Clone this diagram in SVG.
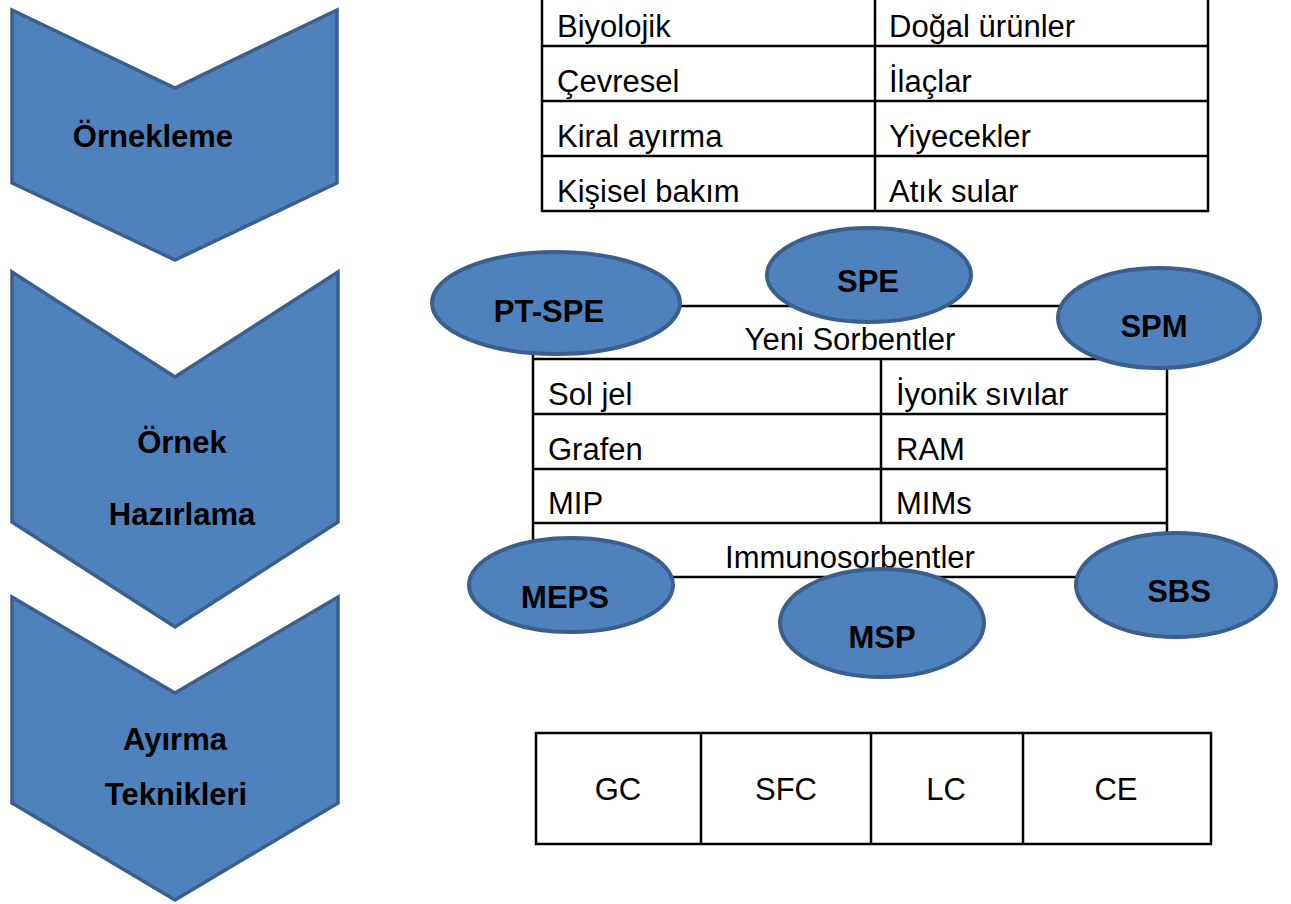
<svg xmlns="http://www.w3.org/2000/svg" width="1291" height="904" viewBox="0 0 1291 904">
<style>
.chev{fill:#4F81BD;stroke:#3A5F8D;stroke-width:3.5;stroke-linejoin:miter}
.ell{fill:#4F81BD;stroke:#3A5F8D;stroke-width:4}
.ln{fill:none;stroke:#000;stroke-width:2.5}
.bt{font-family:"Liberation Sans",Arial,sans-serif;font-weight:bold;font-size:31px;fill:#000;text-anchor:middle}
.t{font-family:"Liberation Sans",Arial,sans-serif;font-size:31px;fill:#000}
.tc{font-family:"Liberation Sans",Arial,sans-serif;font-size:31px;fill:#000;text-anchor:middle}
</style>
<rect width="1291" height="904" fill="#fff"/>

<g id="chevron-ornekleme">
<polygon class="chev" points="12,10 175,88 337,10 337,183 175,260 12,183"/>
<text class="bt" x="153" y="147">Örnekleme</text>
</g>
<g id="chevron-ornek-hazirlama">
<polygon class="chev" points="12,272 175,377 338,272 338,522 175,627 12,522"/>
<text class="bt" x="182" y="453">Örnek</text>
<text class="bt" x="182" y="525">Hazırlama</text>
</g>
<g id="chevron-ayirma">
<polygon class="chev" points="12,597 175,693 338,597 338,803 175,900 12,803"/>
<text class="bt" x="175" y="750">Ayırma</text>
<text class="bt" x="176" y="805">Teknikleri</text>
</g>

<g id="table-applications">
<rect class="ln" x="542" y="-10" width="666" height="221"/>
<line class="ln" x1="875" y1="-10" x2="875" y2="211"/>
<line class="ln" x1="542" y1="46" x2="1208" y2="46"/>
<line class="ln" x1="542" y1="101" x2="1208" y2="101"/>
<line class="ln" x1="542" y1="156" x2="1208" y2="156"/>
<text class="t" x="557" y="37">Biyolojik</text>
<text class="t" x="557" y="92">Çevresel</text>
<text class="t" x="557" y="147">Kiral ayırma</text>
<text class="t" x="557" y="202">Kişisel bakım</text>
<text class="t" x="889" y="37">Doğal ürünler</text>
<text class="t" x="889" y="92">İlaçlar</text>
<text class="t" x="889" y="147">Yiyecekler</text>
<text class="t" x="889" y="202">Atık sular</text>
</g>

<g id="table-sorbents">
<rect class="ln" x="533" y="306" width="634" height="271"/>
<line class="ln" x1="533" y1="359" x2="1167" y2="359"/>
<line class="ln" x1="533" y1="414" x2="1167" y2="414"/>
<line class="ln" x1="533" y1="469" x2="1167" y2="469"/>
<line class="ln" x1="533" y1="523" x2="1167" y2="523"/>
<line class="ln" x1="881" y1="359" x2="881" y2="523"/>
<text class="tc" x="850" y="350">Yeni Sorbentler</text>
<text class="t" x="548" y="405">Sol jel</text>
<text class="t" x="548" y="460">Grafen</text>
<text class="t" x="548" y="514">MIP</text>
<text class="t" x="896" y="405">İyonik sıvılar</text>
<text class="t" x="896" y="460">RAM</text>
<text class="t" x="896" y="514">MIMs</text>
<text class="tc" x="850" y="568">Immunosorbentler</text>
</g>

<g id="connectors"></g>

<g id="node-pt-spe">
<ellipse class="ell" cx="556" cy="303" rx="124" ry="51"/>
<text class="bt" x="549" y="322">PT-SPE</text>
</g>
<g id="node-spe">
<ellipse class="ell" cx="869" cy="275" rx="102" ry="47"/>
<text class="bt" x="868" y="292">SPE</text>
</g>
<g id="node-spm">
<ellipse class="ell" cx="1159" cy="318" rx="101" ry="50"/>
<text class="bt" x="1154" y="337">SPM</text>
</g>
<g id="node-meps">
<ellipse class="ell" cx="571" cy="585" rx="102" ry="47"/>
<text class="bt" x="565" y="608">MEPS</text>
</g>
<g id="node-msp">
<ellipse class="ell" cx="882" cy="623" rx="102" ry="54"/>
<text class="bt" x="882" y="648">MSP</text>
</g>
<g id="node-sbs">
<ellipse class="ell" cx="1176" cy="585" rx="100" ry="52"/>
<text class="bt" x="1179" y="602">SBS</text>
</g>

<g id="table-techniques">
<rect class="ln" x="536" y="733" width="675" height="111"/>
<line class="ln" x1="701" y1="733" x2="701" y2="844"/>
<line class="ln" x1="871" y1="733" x2="871" y2="844"/>
<line class="ln" x1="1023" y1="733" x2="1023" y2="844"/>
<text class="tc" x="618" y="800">GC</text>
<text class="tc" x="786" y="800">SFC</text>
<text class="tc" x="946" y="800">LC</text>
<text class="tc" x="1116" y="800">CE</text>
</g>
</svg>
